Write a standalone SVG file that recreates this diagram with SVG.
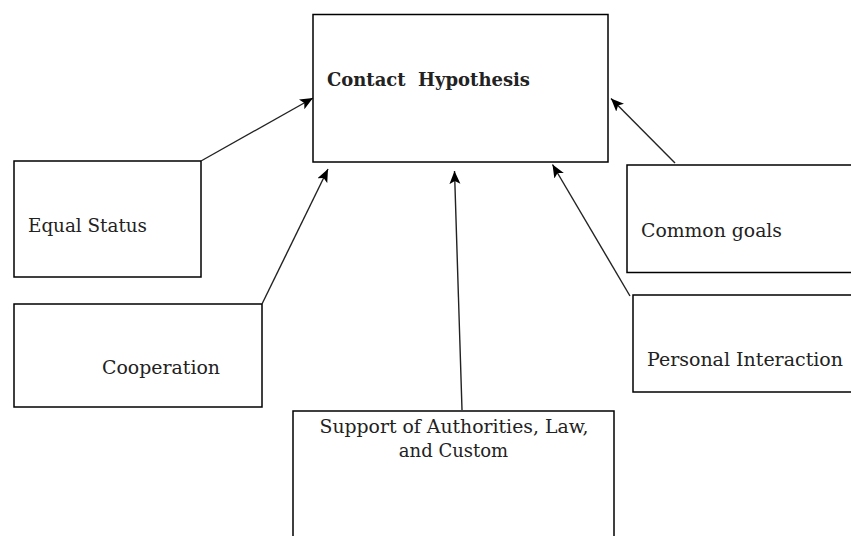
<svg xmlns="http://www.w3.org/2000/svg" width="851" height="536" viewBox="0 0 851 536">
<defs>
<marker id="arr" markerUnits="userSpaceOnUse" markerWidth="14" markerHeight="12" refX="13" refY="5.5" orient="auto">
<path d="M0,0 L13,5.5 L0,11 L3,5.5 Z" fill="#000"/>
</marker>
</defs>
<style>
.box{fill:#fff;stroke:#000;stroke-width:1.5}
.t{font-family:"DejaVu Serif","Liberation Serif",serif;font-size:18px;fill:#222}
.conn line{stroke:#222;stroke-width:1.4;marker-end:url(#arr)}
</style>
<rect width="851" height="536" fill="#fff"/>
<g id="contact">
<rect class="box" x="313" y="14.5" width="295" height="147.5"/>
<text class="t" x="327" y="86" font-weight="bold" textLength="203" lengthAdjust="spacingAndGlyphs" xml:space="preserve">Contact  Hypothesis</text>
</g>
<g id="equal">
<rect class="box" x="14" y="161" width="187" height="116"/>
<text class="t" x="28" y="232" textLength="119" lengthAdjust="spacingAndGlyphs">Equal Status</text>
</g>
<g id="coop">
<rect class="box" x="14" y="304" width="248" height="103"/>
<text class="t" x="102" y="374" textLength="118" lengthAdjust="spacingAndGlyphs">Cooperation</text>
</g>
<g id="goals">
<rect class="box" x="627" y="165" width="230" height="107.5"/>
<text class="t" x="641" y="237" textLength="141" lengthAdjust="spacingAndGlyphs">Common goals</text>
</g>
<g id="personal">
<rect class="box" x="633" y="295" width="224" height="97"/>
<text class="t" x="647" y="366" textLength="196" lengthAdjust="spacingAndGlyphs">Personal Interaction</text>
</g>
<g id="support">
<rect class="box" x="293" y="411" width="321" height="135"/>
<text class="t" x="319.5" y="432.5" textLength="269" lengthAdjust="spacingAndGlyphs">Support of Authorities, Law,</text>
<text class="t" x="453.5" y="457" text-anchor="middle">and Custom</text>
</g>
<g class="conn" id="connectors">
<line x1="201" y1="161" x2="313" y2="98"/>
<line x1="262" y1="304" x2="328" y2="169"/>
<line x1="462" y1="410" x2="454.5" y2="171"/>
<line x1="630" y1="296" x2="552.5" y2="164.5"/>
<line x1="675" y1="163" x2="611" y2="98.5"/>
</g>
</svg>
